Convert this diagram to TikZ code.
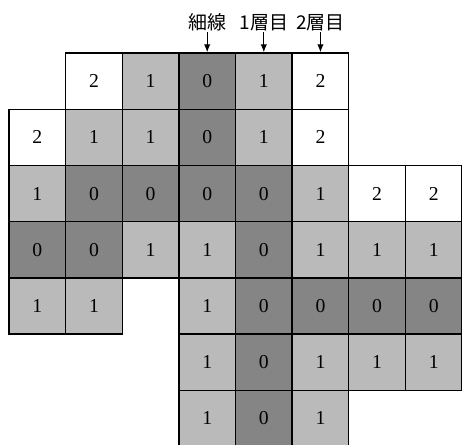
\documentclass[tikz,border=0pt]{standalone}
\usepackage{fontspec}
\setmainfont{Liberation Serif}
\newfontfamily\jpfont{Noto Sans CJK JP}
\usepackage{tikz}
\usetikzlibrary{positioning,arrows.meta}

\begin{document}
\begin{tikzpicture}[
        x=1.415cm, y=1.405cm,
        cell/.style={rectangle, draw, line width=1pt, minimum width=1.415cm, minimum height=1.405cm, inner sep=0pt, font=\rmfamily\fontsize{14}{16}\selectfont},
        lv0/.style={cell, fill=black!48},
        lv1/.style={cell, fill=black!27},
        lv2/.style={cell, fill=white},
        lab/.style={inner sep=1pt, font=\jpfont\fontsize{13.5}{15}\selectfont}
    ]

    %% ---- frame ----
    \useasboundingbox (-0.159,0.943) rectangle (8.0,-6.957);
    \clip (-0.159,0.943) rectangle (8.0,-6.957);

    %% ---- row 0 ----
    \node[lv2] (c01) at (1.5,-0.5) {2};
    \node[lv1] (c02) at (2.5,-0.5) {1};
    \node[lv0] (c03) at (3.5,-0.5) {0};
    \node[lv1] (c04) at (4.5,-0.5) {1};
    \node[lv2] (c05) at (5.5,-0.5) {2};

    %% ---- row 1 ----
    \node[lv2] (c10) at (0.5,-1.5) {2};
    \node[lv1] (c11) at (1.5,-1.5) {1};
    \node[lv1] (c12) at (2.5,-1.5) {1};
    \node[lv0] (c13) at (3.5,-1.5) {0};
    \node[lv1] (c14) at (4.5,-1.5) {1};
    \node[lv2] (c15) at (5.5,-1.5) {2};

    %% ---- row 2 ----
    \node[lv1] (c20) at (0.5,-2.5) {1};
    \node[lv0] (c21) at (1.5,-2.5) {0};
    \node[lv0] (c22) at (2.5,-2.5) {0};
    \node[lv0] (c23) at (3.5,-2.5) {0};
    \node[lv0] (c24) at (4.5,-2.5) {0};
    \node[lv1] (c25) at (5.5,-2.5) {1};
    \node[lv2] (c26) at (6.5,-2.5) {2};
    \node[lv2] (c27) at (7.5,-2.5) {2};

    %% ---- row 3 ----
    \node[lv0] (c30) at (0.5,-3.5) {0};
    \node[lv0] (c31) at (1.5,-3.5) {0};
    \node[lv1] (c32) at (2.5,-3.5) {1};
    \node[lv1] (c33) at (3.5,-3.5) {1};
    \node[lv0] (c34) at (4.5,-3.5) {0};
    \node[lv1] (c35) at (5.5,-3.5) {1};
    \node[lv1] (c36) at (6.5,-3.5) {1};
    \node[lv1] (c37) at (7.5,-3.5) {1};

    %% ---- row 4 ----
    \node[lv1] (c40) at (0.5,-4.5) {1};
    \node[lv1] (c41) at (1.5,-4.5) {1};
    \node[lv1] (c43) at (3.5,-4.5) {1};
    \node[lv0] (c44) at (4.5,-4.5) {0};
    \node[lv0] (c45) at (5.5,-4.5) {0};
    \node[lv0] (c46) at (6.5,-4.5) {0};
    \node[lv0] (c47) at (7.5,-4.5) {0};

    %% ---- row 5 ----
    \node[lv1] (c53) at (3.5,-5.5) {1};
    \node[lv0] (c54) at (4.5,-5.5) {0};
    \node[lv1] (c55) at (5.5,-5.5) {1};
    \node[lv1] (c56) at (6.5,-5.5) {1};
    \node[lv1] (c57) at (7.5,-5.5) {1};

    %% ---- row 6 ----
    \node[lv1] (c63) at (3.5,-6.5) {1};
    \node[lv0] (c64) at (4.5,-6.5) {0};
    \node[lv1] (c65) at (5.5,-6.5) {1};

    %% ---- labels ----
    \node[lab, above=5mm of c03] (thin) {細線};
    \node[lab, above=5mm of c04] (lay1) {1層目};
    \node[lab, above=5mm of c05] (lay2) {2層目};
    \draw[-{Latex[length=2mm,width=1.6mm]}, line width=0.8pt] (thin) -- (c03);
    \draw[-{Latex[length=2mm,width=1.6mm]}, line width=0.8pt] (lay1) -- (c04);
    \draw[-{Latex[length=2mm,width=1.6mm]}, line width=0.8pt] (lay2) -- (c05);

\end{tikzpicture}
\end{document}
